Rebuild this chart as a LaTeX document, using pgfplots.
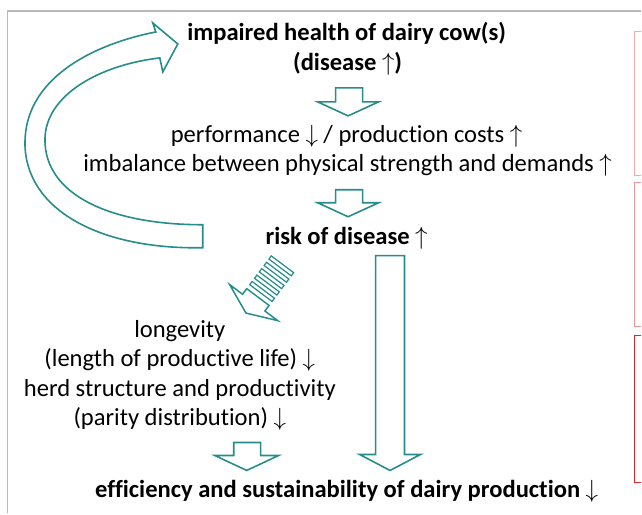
\documentclass[border=0pt]{standalone}
\usepackage{pgfplots}
\pgfplotsset{compat=1.18}
\usepackage{fontspec}
\setmainfont{Carlito}[Ligatures={NoCommon}]
\definecolor{tealA}{RGB}{38,140,140}
\definecolor{frameG}{RGB}{185,185,185}
\definecolor{pinkA}{RGB}{246,170,170}
\definecolor{pinkB}{RGB}{240,150,150}
\definecolor{redA}{RGB}{220,40,40}
\newcommand{\tf}{\fontsize{24.6}{29}\selectfont}
\newcommand{\up}{$\smash{\uparrow}$}
\newcommand{\dn}{$\smash{\downarrow}$}
\begin{document}
\begin{tikzpicture}
\begin{axis}[scale only axis, width=642pt, height=514pt,
  xmin=0, xmax=642, ymin=0, ymax=514, axis lines=none, clip=false,
  ticks=none]
\path (axis cs:0,0) rectangle (axis cs:642,514);
% frame
\draw[frameG, line width=1.5pt] (axis cs:7.4,0) -- (axis cs:7.4,503) -- (axis cs:642,503);
% red boxes at right
\draw[pinkA, line width=1pt] (axis cs:642,482) -- (axis cs:635,482) -- (axis cs:635,338) -- (axis cs:642,338);
\draw[pinkB, line width=1pt] (axis cs:642,331) -- (axis cs:635,331) -- (axis cs:635,187) -- (axis cs:642,187);
\draw[redA, line width=1pt] (axis cs:642,178) -- (axis cs:635,178) -- (axis cs:635,31) -- (axis cs:642,31);
% curved arrow
\draw[tealA, line width=1.6pt, line join=miter]
  (axis cs:203,266) .. controls (axis cs:100,264) and (axis cs:25,304) .. (axis cs:25,371)
  .. controls (axis cs:25,434) and (axis cs:90,469) .. (axis cs:156,482)
  -- (axis cs:153,491) -- (axis cs:178,470) -- (axis cs:163,442) -- (axis cs:160,456)
  .. controls (axis cs:100,449) and (axis cs:45,419) .. (axis cs:45,374)
  .. controls (axis cs:45,319) and (axis cs:110,289) .. (axis cs:203,289) -- cycle;
% small arrow 1
\draw[tealA, line width=1.6pt, line join=miter]
  (axis cs:336,426) -- (axis cs:363,426) -- (axis cs:363,412) -- (axis cs:379,412)
  -- (axis cs:348.5,398) -- (axis cs:318,412) -- (axis cs:336,412) -- cycle;
% small arrow 2
\draw[tealA, line width=1.6pt, line join=miter]
  (axis cs:336,324) -- (axis cs:363,324) -- (axis cs:363,311) -- (axis cs:379,311)
  -- (axis cs:348.5,297) -- (axis cs:318,311) -- (axis cs:336,311) -- cycle;
% long arrow
\draw[tealA, line width=1.6pt, line join=miter]
  (axis cs:376,258) -- (axis cs:405,258) -- (axis cs:405,59) -- (axis cs:421,59)
  -- (axis cs:390.5,43) -- (axis cs:360,59) -- (axis cs:376,59) -- cycle;
% small arrow 3
\draw[tealA, line width=1.6pt, line join=miter]
  (axis cs:234,71) -- (axis cs:261,71) -- (axis cs:261,58) -- (axis cs:279,58)
  -- (axis cs:247,43) -- (axis cs:215,58) -- (axis cs:234,58) -- cycle;
% striped arrow head + body
\draw[tealA, line width=1.5pt, line join=miter]
  (axis cs:230,229) -- (axis cs:246.2,200.6) -- (axis cs:278,193) -- (axis cs:265.2,202.6)
  -- (axis cs:269.4,208.2) -- (axis cs:247,225) -- (axis cs:242.8,219.4) -- cycle;
\pgfplotsinvokeforeach{12,20,28,36,44}{
  \draw[tealA, line width=1.2pt]
   (axis cs:{242.8+0.6*#1},{219.4+0.8*#1}) -- (axis cs:{265.2+0.6*#1},{202.6+0.8*#1})
   -- (axis cs:{265.2+0.6*(#1+4)},{202.6+0.8*(#1+4)}) -- (axis cs:{242.8+0.6*(#1+4)},{219.4+0.8*(#1+4)}) -- cycle;
}
% texts
\node[anchor=base, font=\tf\bfseries, inner sep=0pt] at (axis cs:347,473) {impaired health of dairy cow(s)};
\node[anchor=base, font=\tf\bfseries, inner sep=0pt] at (axis cs:348,443) {(disease \up)};
\node[anchor=base, font=\tf, inner sep=0pt] at (axis cs:347,371) {performance \dn{} / production costs \up};
\node[anchor=base, font=\tf, inner sep=0pt] at (axis cs:348,342) {imbalance between physical strength and demands \up};
\node[anchor=base, font=\tf\bfseries, inner sep=0pt] at (axis cs:347,269) {risk of disease \up};
\node[anchor=base, font=\tf, inner sep=0pt] at (axis cs:180,176) {longevity};
\node[anchor=base, font=\tf, inner sep=0pt] at (axis cs:180,147) {(length of productive life) \dn};
\node[anchor=base, font=\tf, inner sep=0pt] at (axis cs:180,117) {herd structure and productivity};
\node[anchor=base, font=\tf, inner sep=0pt] at (axis cs:180,88) {(parity distribution) \dn};
\node[anchor=base, font=\tf\bfseries, inner sep=0pt] at (axis cs:347,16) {efficiency and sustainability of dairy production \dn};
\end{axis}
\end{tikzpicture}
\end{document}
